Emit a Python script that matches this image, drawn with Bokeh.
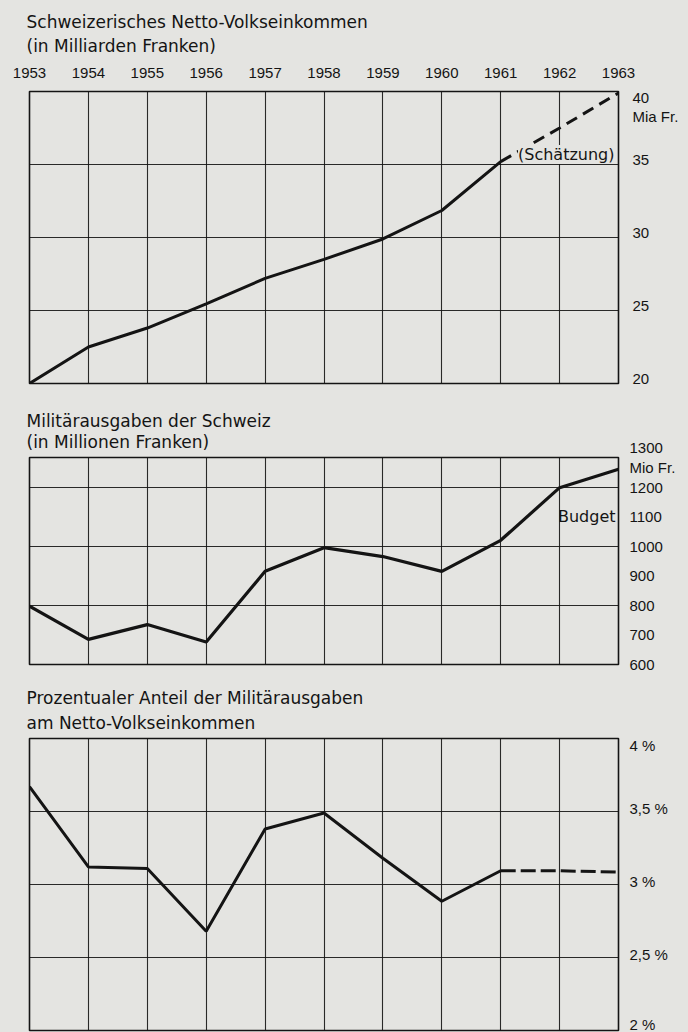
from bokeh.plotting import figure
from bokeh.models import LinearAxis, FixedTicker, Label, Range1d, Title
from bokeh.layouts import column
from bokeh.embed import file_html
from bokeh.resources import INLINE

# ---------------- data ----------------
years = [1953, 1954, 1955, 1956, 1957, 1958, 1959, 1960, 1961, 1962, 1963]
year_labels = ["1953", "1954", "1955", "1956", "1957", "1958", "1959", "1960", "1961", "1962", "1963"]

income_years = [1953, 1954, 1955, 1956, 1957, 1958, 1959, 1960, 1961]
income = [20.0, 22.5, 23.8, 25.45, 27.2, 28.5, 29.9, 31.85, 35.2]
income_est_years = [1961, 1962, 1963]
income_est = [35.2, 37.5, 39.9]
income_ticks = [20, 25, 30, 35]
income_labels = ["20", "25", "30", "35"]
income_top, income_top_label, income_unit = 40, "40", "Mia Fr."

military = [797, 685, 735, 676, 915, 995, 965, 915, 1020, 1198, 1260]
military_ticks = [600, 700, 800, 900, 1000, 1100, 1200, 1300]
military_labels = ["600", "700", "800", "900", "1000", "1100", "1200", "1300\nMio Fr."]
military_grid = [800, 1000, 1200]

share_years = [1953, 1954, 1955, 1956, 1957, 1958, 1959, 1960, 1961]
share = [3.67, 3.12, 3.11, 2.68, 3.38, 3.49, 3.18, 2.885, 3.094]
share_est_years = [1961, 1962, 1963]
share_est = [3.094, 3.094, 3.085]
share_ticks = [2.0, 2.5, 3.0, 3.5]
share_labels = ["2 %", "2,5 %", "3 %", "3,5 %"]
share_top, share_top_label = 4.0, "4 %"

title1 = "Schweizerisches Netto-Volkseinkommen\n(in Milliarden Franken)"
title2 = "Militärausgaben der Schweiz\n(in Millionen Franken)"
title3 = "Prozentualer Anteil der Militärausgaben\nam Netto-Volkseinkommen"

# ---------------- style ----------------
BG = "#e4e4e1"
INK = "#141414"
NUMFONT = "Liberation Sans"
TXTFONT = "DejaVu Sans"
W = 688


def base(height, top, bottom, yr, grid_y):
    p = figure(width=W, height=height, output_backend="svg", toolbar_location=None,
               x_range=Range1d(1953, 1963), y_range=Range1d(*yr),
               min_border_left=29, min_border_right=70,
               min_border_top=top, min_border_bottom=bottom)
    p.background_fill_color = BG
    p.border_fill_color = BG
    p.outline_line_color = INK
    p.outline_line_width = 1.6
    p.xaxis.visible = False
    p.yaxis.visible = False
    p.xgrid.ticker = FixedTicker(ticks=years)
    p.ygrid.ticker = FixedTicker(ticks=grid_y)
    for g in (p.xgrid[0], p.ygrid[0]):
        g.grid_line_color = INK
        g.grid_line_width = 1.1
        g.grid_line_alpha = 0.9
    return p


def right_axis(p, ticks, labels, standoff):
    ax = LinearAxis(ticker=FixedTicker(ticks=ticks),
                    major_label_overrides={t: l for t, l in zip(ticks, labels)})
    ax.axis_line_color = None
    ax.major_tick_line_color = None
    ax.minor_tick_line_color = None
    ax.major_label_standoff = standoff
    ax.major_label_text_font = NUMFONT
    ax.major_label_text_font_size = "15px"
    ax.major_label_text_color = INK
    p.add_layout(ax, "right")
    return ax


def add_title(p, text, standoff, line_height):
    p.add_layout(Title(text=text, align="left", offset=-3, standoff=standoff,
                       text_font=TXTFONT, text_font_size="17px",
                       text_font_style="normal", text_color=INK,
                       text_line_height=line_height), "above")


def px_per_unit(frame_h, yr):
    return frame_h / (yr[1] - yr[0])


# ---- chart 1: Netto-Volkseinkommen ----
yr1 = (20, 40)
p1 = base(400, 91, 17, yr1, [25, 30, 35])
k1 = px_per_unit(292, yr1)
top_ax = LinearAxis(ticker=FixedTicker(ticks=years),
                    major_label_overrides={y: l for y, l in zip(years, year_labels)})
top_ax.axis_line_color = None
top_ax.major_tick_line_color = None
top_ax.minor_tick_line_color = None
top_ax.major_label_standoff = 8
top_ax.major_label_text_font = NUMFONT
top_ax.major_label_text_font_size = "15px"
top_ax.major_label_text_color = INK
p1.add_layout(top_ax, "above")
# hand-lettered labels sit slightly above their lines; top value and unit below the top edge
t1 = [v + 5 / k1 for v in income_ticks] + [income_top - 6 / k1, income_top - 25 / k1]
l1 = income_labels + [income_top_label, income_unit]
right_axis(p1, t1, l1, 8)
p1.line(income_years, income, line_color=INK, line_width=3)
p1.line(income_est_years, income_est, line_color=INK, line_width=3, line_dash="12 7")
p1.add_layout(Label(x=1963, y=35, text="(Schätzung)", x_offset=-4, y_offset=10,
                    text_font=TXTFONT, text_font_size="16px", text_color=INK,
                    text_align="right", text_baseline="middle",
                    background_fill_color=BG))
add_title(p1, title1, 16.5, 1.19)

# ---- chart 2: Militärausgaben ----
yr2 = (600, 1300)
p2 = base(280, 57, 16, yr2, military_grid)
right_axis(p2, military_ticks, military_labels, 5)
p2.line(years, military, line_color=INK, line_width=3.2)
p2.add_layout(Label(x=1963, y=1100, text="Budget", x_offset=-3,
                    text_font=TXTFONT, text_font_size="16px", text_color=INK,
                    text_align="right", text_baseline="middle"))
add_title(p2, title2, 10.5, 1.04)

# ---- chart 3: Prozentualer Anteil ----
yr3 = (2.0, 4.0)
p3 = base(352, 57, 2, yr3, [2.5, 3.0, 3.5])
k3 = px_per_unit(293, yr3)
t3 = [v + 3 / k3 for v in share_ticks] + [share_top - 7 / k3]
l3 = share_labels + [share_top_label]
right_axis(p3, t3, l3, 5)
p3.line(share_years, share, line_color=INK, line_width=3)
p3.line(share_est_years, share_est, line_color=INK, line_width=3, line_dash="15 5")
add_title(p3, title3, 10.5, 1.25)

layout = column(p1, p2, p3, spacing=0)

html = file_html(layout, INLINE)
html = html.replace("<head>", "<head><style>body{background:%s;}</style>" % BG, 1)
open("out.html", "w").write(html)
